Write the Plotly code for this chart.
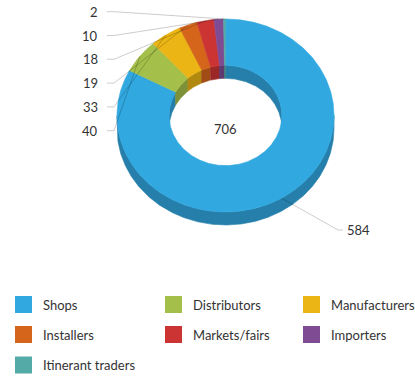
import numpy as np
import plotly.graph_objects as go

# Sales channels and counts
categories = ["Shops", "Distributors", "Manufacturers", "Installers",
              "Markets/fairs", "Importers", "Itinerant traders"]
values = [584, 40, 33, 19, 18, 10, 2]
colors = ["#31A8E0", "#A4C04A", "#EBB515", "#D4651B",
          "#CC3434", "#7F4C94", "#53AAA7"]

W, H = 415, 376
CX, CY = 225.5, 115.5      # centre of the top face
RX, RY = 108.5, 96.5       # outer radii of the tilted ring
HOLE = 0.52                # inner radius as a fraction of the outer one
DEPTH = 13                 # thickness of the extruded ring
FONT = "Lato"
TEXT_COLOR = "#333333"


def shade(hex_color, k=0.76):
    h = hex_color.lstrip("#")
    r, g, b = (int(h[i:i + 2], 16) for i in (0, 2, 4))
    return "rgb({},{},{})".format(int(r * k), int(g * k), int(b * k))


def pt(theta, r, dz=0.0):
    t = np.radians(theta)
    return CX + RX * r * np.sin(t), CY - RY * r * np.cos(t) + dz


def arc(a0, a1, r, dz=0.0):
    n = max(int(abs(a1 - a0) / 0.5) + 2, 2)
    th = np.linspace(a0, a1, n)
    return pt(th, r, dz)


total = sum(values)
spans = [v / total * 360.0 for v in values]
starts = np.concatenate([[0.0], np.cumsum(spans)[:-1]])

fig = go.Figure()


def add_poly(xs, ys, color, lw=0.0):
    fig.add_trace(go.Scatter(
        x=list(xs) + [xs[0]], y=list(ys) + [ys[0]], mode="lines",
        fill="toself", fillcolor=color,
        line=dict(color=color, width=lw),
        hoverinfo="skip", showlegend=False))


# side walls: front of the outer rim and back of the inner rim
for a0, span, col in zip(starts, spans, colors):
    a1 = a0 + span
    dark = shade(col)
    lo, hi = max(a0, 90), min(a1, 270)
    if lo < hi:
        x1, y1 = arc(lo, hi, 1.0)
        x2, y2 = arc(hi, lo, 1.0, DEPTH)
        add_poly(np.r_[x1, x2], np.r_[y1, y2], dark, 0.6)
    for b0, b1 in ((0, 90), (270, 360)):
        lo, hi = max(a0, b0), min(a1, b1)
        if lo < hi:
            x1, y1 = arc(lo, hi, HOLE)
            x2, y2 = arc(hi, lo, HOLE, DEPTH)
            add_poly(np.r_[x1, x2], np.r_[y1, y2], dark, 0.6)

# top faces of the ring segments
for a0, span, col in zip(starts, spans, colors):
    a1 = a0 + span
    x1, y1 = arc(a0, a1, 1.0)
    x2, y2 = arc(a1, a0, HOLE)
    add_poly(np.r_[x1, x2], np.r_[y1, y2], col, 0.6)

# value labels with leader lines
mids = [a + s / 2 for a, s in zip(starts, spans)]
lx, ly = [], []
annotations = []
LABEL_X, LABEL_TOP, LABEL_STEP = 100, 11.7, 23.8
small = list(range(len(values) - 1, 0, -1))
for row, i in enumerate(small):
    y = LABEL_TOP + row * LABEL_STEP
    px, py = pt(mids[i], 1.0)
    lx += [LABEL_X + 7, LABEL_X + 14, float(px), None]
    ly += [y, y, float(py), None]
    annotations.append(dict(x=LABEL_X, y=y, text=str(values[i]),
                            xanchor="right", yanchor="middle",
                            showarrow=False,
                            font=dict(family=FONT, size=13, color=TEXT_COLOR)))

px, py = pt(mids[0], 1.0)
lx += [float(px), 338, 343, None]
ly += [float(py), 230, 230, None]
annotations.append(dict(x=345, y=230, text=str(values[0]),
                        xanchor="left", yanchor="middle", showarrow=False,
                        font=dict(family=FONT, size=13, color=TEXT_COLOR)))

fig.add_trace(go.Scatter(x=lx, y=ly, mode="lines",
                         line=dict(color="rgba(0,0,0,0.2)", width=1),
                         hoverinfo="skip", showlegend=False))

# total in the centre of the ring
annotations.append(dict(x=CX, y=129, text=str(total), showarrow=False,
                        xanchor="center", yanchor="middle",
                        font=dict(family=FONT, size=13, color=TEXT_COLOR)))

# legend in three columns
col_x = [23.5, 173.5, 311.5]
row_y = [304.5, 334.5, 365]
sx = [col_x[i % 3] for i in range(len(categories))]
sy = [row_y[i // 3] for i in range(len(categories))]
fig.add_trace(go.Scatter(x=sx, y=sy, mode="markers",
                         marker=dict(symbol="square", size=17, color=colors,
                                     line=dict(width=0)),
                         hoverinfo="skip", showlegend=False))
for name, x, y in zip(categories, sx, sy):
    annotations.append(dict(x=x + 17, y=y, text=name, showarrow=False,
                            xanchor="left", yanchor="middle",
                            font=dict(family=FONT, size=13, color=TEXT_COLOR)))

fig.update_layout(
    width=W, height=H,
    margin=dict(l=0, r=0, t=0, b=0),
    paper_bgcolor="white", plot_bgcolor="white",
    xaxis=dict(range=[0, W], visible=False, fixedrange=True),
    yaxis=dict(range=[H, 0], visible=False, fixedrange=True),
    annotations=annotations,
    showlegend=False,
)

fig.write_html("out.html")
